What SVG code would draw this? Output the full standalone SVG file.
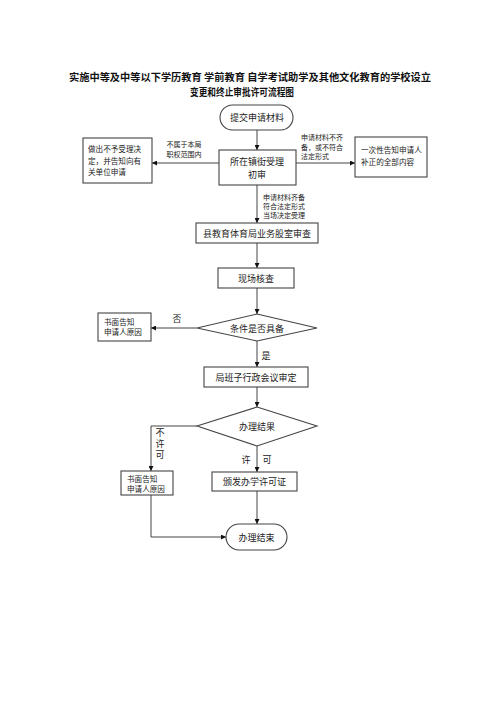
<svg xmlns="http://www.w3.org/2000/svg" width="500" height="707" viewBox="0 0 500 707">
<style>
text{font-family:"Noto Sans CJK SC","Liberation Sans",sans-serif;fill:#222}
.t{font-size:10px;font-weight:bold;text-anchor:middle;fill:#111}
.m{font-size:9px;text-anchor:middle}
.v{font-size:9px;writing-mode:vertical-rl;letter-spacing:2px}
.s{font-size:7.6px}
.l{font-size:7px}
.sc{font-size:7px;text-anchor:middle}
.b{fill:#fff;stroke:#444;stroke-width:1.1}
.c{fill:none;stroke:#444;stroke-width:1}
</style>
<defs>
<marker id="ah" viewBox="0 0 10 10" refX="10" refY="5" markerWidth="5" markerHeight="5" orient="auto" markerUnits="userSpaceOnUse">
<path d="M0,0 L10,5 L0,10 z" fill="#111"/>
</marker>
</defs>
<rect width="500" height="707" fill="#fff"/>
<g id="title">
<text class="t" x="250" y="81" textLength="362" lengthAdjust="spacingAndGlyphs">实施中等及中等以下学历教育 学前教育 自学考试助学及其他文化教育的学校设立</text>
<text class="t" x="242" y="96" textLength="104" lengthAdjust="spacingAndGlyphs">变更和终止审批许可流程图</text>
</g>
<g id="connectors">
<path class="c" d="M257,130 V150" marker-end="url(#ah)"/>
<path class="c" d="M219,163 H152" marker-end="url(#ah)"/>
<path class="c" d="M296,163 H355" marker-end="url(#ah)"/>
<path class="c" d="M257,185 V223" marker-end="url(#ah)"/>
<path class="c" d="M257,243 V268" marker-end="url(#ah)"/>
<path class="c" d="M257,288 V314" marker-end="url(#ah)"/>
<path class="c" d="M197,328 H151" marker-end="url(#ah)"/>
<path class="c" d="M257,341 V367" marker-end="url(#ah)"/>
<path class="c" d="M257,387 V407" marker-end="url(#ah)"/>
<path class="c" d="M197,426 H151 V471" marker-end="url(#ah)"/>
<path class="c" d="M257,446 V472" marker-end="url(#ah)"/>
<path class="c" d="M151,495 V537 H226" marker-end="url(#ah)"/>
<path class="c" d="M257,491 V524" marker-end="url(#ah)"/>
<text class="sc" x="184" y="146.5">不属于本局</text>
<text class="sc" x="184" y="156.5">职权范围内</text>
<text class="l" x="301" y="140">申请材料不齐</text>
<text class="l" x="301" y="149.5">备，或不符合</text>
<text class="l" x="301" y="159">法定形式</text>
<text class="l" x="263" y="199.5">申请材料齐备</text>
<text class="l" x="263" y="208.5">符合法定形式</text>
<text class="l" x="263" y="217.5">当场决定受理</text>
<text class="m" x="177" y="322">否</text>
<text class="m" x="266" y="359">是</text>
<text class="v" x="160" y="428">不许可</text>
<text class="m" x="246" y="463">许</text>
<text class="m" x="267" y="463">可</text>
</g>
<g id="n-start">
<rect class="b" x="220" y="105" width="73" height="25" rx="12.5"/>
<text class="m" x="257" y="121">提交申请材料</text>
</g>
<g id="n-initial">
<rect class="b" x="219" y="150" width="77" height="35"/>
<text class="m" x="257" y="165">所在镇街受理</text>
<text class="m" x="257" y="178">初审</text>
</g>
<g id="n-reject">
<rect class="b" x="83" y="138" width="69" height="45"/>
<text class="s" x="88" y="152">做出不予受理决</text>
<text class="s" x="88" y="164">定，并告知向有</text>
<text class="s" x="88" y="175">关单位申请</text>
</g>
<g id="n-notify">
<rect class="b" x="355" y="137" width="72" height="40"/>
<text class="s" x="361" y="153">一次性告知申请人</text>
<text class="s" x="361" y="165">补正的全部内容</text>
</g>
<g id="n-review">
<rect class="b" x="196" y="223" width="122" height="20"/>
<text class="m" x="257" y="236.5">县教育体育局业务股室审查</text>
</g>
<g id="n-inspect">
<rect class="b" x="218" y="268" width="76" height="20"/>
<text class="m" x="256" y="281.5">现场核查</text>
</g>
<g id="n-cond">
<polygon class="b" points="257,314 317,328 257,341 197,328"/>
<text class="m" x="257" y="331.5">条件是否具备</text>
</g>
<g id="n-reason1">
<rect class="b" x="98" y="313" width="53" height="28"/>
<text class="s" x="104" y="324.5">书面告知</text>
<text class="s" x="104" y="335">申请人原因</text>
</g>
<g id="n-meeting">
<rect class="b" x="204" y="367" width="104" height="20"/>
<text class="m" x="256" y="380.5">局班子行政会议审定</text>
</g>
<g id="n-result">
<polygon class="b" points="257,407 317,426 257,446 197,426"/>
<text class="m" x="257" y="429.5">办理结果</text>
</g>
<g id="n-reason2">
<rect class="b" x="121" y="471" width="52" height="24"/>
<text class="s" x="127" y="482">书面告知</text>
<text class="s" x="127" y="491.5">申请人原因</text>
</g>
<g id="n-license">
<rect class="b" x="212" y="472" width="85" height="19"/>
<text class="m" x="254.5" y="485">颁发办学许可证</text>
</g>
<g id="n-end">
<rect class="b" x="226" y="524" width="61" height="26" rx="13"/>
<text class="m" x="256.5" y="540.5">办理结束</text>
</g>
</svg>
